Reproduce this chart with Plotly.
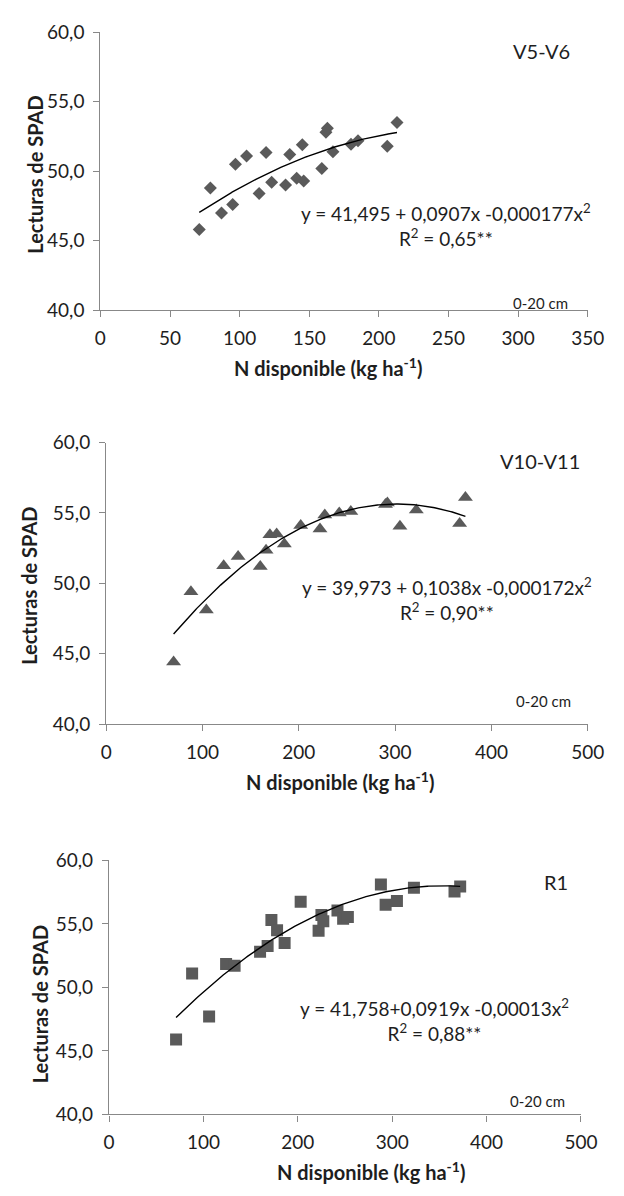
import numpy as np
import plotly.graph_objects as go

W, H = 624, 1196
FONT = "Lato"
TXT = "#1e1e1e"
MARK = "#5a5a5a"
AXIS = "#888888"

# ---- V5-V6 stage ----
n_v5 = [71, 79, 87, 95, 97, 105, 114, 119, 123, 133, 136, 141, 145, 146,
        159, 162, 163, 167, 180, 185, 206, 213]
spad_v5 = [45.8, 48.8, 47.0, 47.6, 50.5, 51.1, 48.4, 51.35, 49.2, 49.0, 51.2,
           49.5, 51.9, 49.3, 50.2, 52.8, 53.1, 51.4, 51.95, 52.2, 51.8, 53.5]
coef_v5 = [41.495, 0.0907, -0.000177]
eq_v5 = "y = 41,495 + 0,0907x -0,000177x<sup>2</sup>"
r2_v5 = "R<sup>2</sup> = 0,65**"

# ---- V10-V11 stage ----
n_v10 = [70, 88, 104, 122, 137, 160, 166, 170, 177, 185, 202, 222, 227, 242,
         254, 290, 292, 305, 322, 367, 373]
spad_v10 = [44.4, 49.4, 48.1, 51.25, 51.9, 51.2, 52.35, 53.45, 53.5, 52.8,
            54.1, 53.85, 54.85, 55.0, 55.1, 55.6, 55.7, 54.05, 55.2, 54.25, 56.1]
coef_v10 = [39.973, 0.1038, -0.000172]
eq_v10 = "y = 39,973 + 0,1038x -0,000172x<sup>2</sup>"
r2_v10 = "R<sup>2</sup> = 0,90**"

# ---- R1 stage ----
n_r1 = [71, 88, 106, 124, 133, 160, 168, 172, 178, 186, 203, 222, 225, 227,
        242, 248, 253, 288, 293, 305, 323, 366, 372]
spad_r1 = [45.9, 51.1, 47.7, 51.85, 51.7, 52.8, 53.25, 55.3, 54.5, 53.5, 56.75,
           54.45, 55.7, 55.2, 56.05, 55.4, 55.55, 58.1, 56.5, 56.8, 57.85, 57.55, 57.95]
coef_r1 = [41.758, 0.0919, -0.00013]
eq_r1 = "y = 41,758+0,0919x -0,00013x<sup>2</sup>"
r2_r1 = "R<sup>2</sup> = 0,88**"

stages = ["V5-V6", "V10-V11", "R1"]
x_ticks = [list(range(0, 351, 50)), list(range(0, 501, 100)), list(range(0, 501, 100))]
y_ticks = [40, 45, 50, 55, 60]

# pixel frames of each panel: left, right, top, bottom
frames = [(98, 604, 20.7, 304), (104, 604, 439, 726), (107, 597, 865, 1124)]
x_title_c = [334, 347, 379]
y_title_c = [(30, 166), (24, 585), (35, 1012)]
stage_pos = [(556, 40), (554, 458), (571, 887)]
eq_pos = [(457, 217), (458, 598), (445, 1028)]
depth_pos = [(555, 297), (558, 702), (552, 1110)]

series = [(n_v5, spad_v5, coef_v5, eq_v5, r2_v5, "diamond", 10),
          (n_v10, spad_v10, coef_v10, eq_v10, r2_v10, "triangle-up", 13),
          (n_r1, spad_r1, coef_r1, eq_r1, r2_r1, "square", 12)]


def px(x):
    return x / W


def py(y):
    return 1 - y / H


fig = go.Figure()
annotations = []


def note(text, pos, size=19, bold=False, angle=0):
    annotations.append(dict(text=f"<b>{text}</b>" if bold else text,
                            x=px(pos[0]), y=py(pos[1]), xref="paper", yref="paper",
                            xanchor="center", yanchor="middle", showarrow=False,
                            textangle=angle, align="center",
                            font=dict(family=FONT, size=size, color=TXT)))


for i, (xs, ys, c, eq, r2, sym, size) in enumerate(series):
    k = "" if i == 0 else str(i + 1)
    left, right, top, bottom = frames[i]
    fig.add_trace(go.Scatter(x=xs, y=ys, mode="markers", xaxis="x" + k, yaxis="y" + k,
                             marker=dict(symbol=sym, size=size, color=MARK,
                                         line=dict(width=0)),
                             showlegend=False))
    # fitted quadratic from the stated coefficients
    xf = np.linspace(min(xs), max(xs), 200)
    yf = c[0] + c[1] * xf + c[2] * xf ** 2
    fig.add_trace(go.Scatter(x=xf, y=yf, mode="lines", xaxis="x" + k, yaxis="y" + k,
                             line=dict(color="black", width=1.4), showlegend=False))
    axis_common = dict(showline=True, linecolor=AXIS, linewidth=1.3, ticks="outside",
                       ticklen=6, tickcolor=AXIS, tickwidth=1.3, showgrid=False,
                       zeroline=False, tickfont=dict(family=FONT, size=19, color=TXT))
    fig.update_layout(**{
        "xaxis" + k: dict(domain=[px(left), px(right)], anchor="y" + k,
                          range=[0, x_ticks[i][-1]], tickvals=x_ticks[i],
                          ticklabelstandoff=5, **axis_common),
        "yaxis" + k: dict(domain=[py(bottom), py(top)], anchor="x" + k,
                          range=[40, 60], tickvals=y_ticks, tickformat=".1f",
                          ticklabelstandoff=5, **axis_common),
    })

    note("N disponible (kg ha<sup>-1</sup>)", (x_title_c[i], frames[i][3] + 58),
         size=20, bold=True)
    note("Lecturas de SPAD", y_title_c[i], size=20, bold=True, angle=-90)
    note(stages[i], stage_pos[i], size=20)
    note(eq + "<br>" + r2, eq_pos[i], size=19)
    note("0-20 cm", depth_pos[i], size=15)

fig.update_layout(width=W, height=H, margin=dict(l=0, r=0, t=0, b=0),
                  paper_bgcolor="white", plot_bgcolor="white", separators=",.",
                  annotations=annotations, font=dict(family=FONT, size=19, color=TXT))
fig.write_html("out.html")
